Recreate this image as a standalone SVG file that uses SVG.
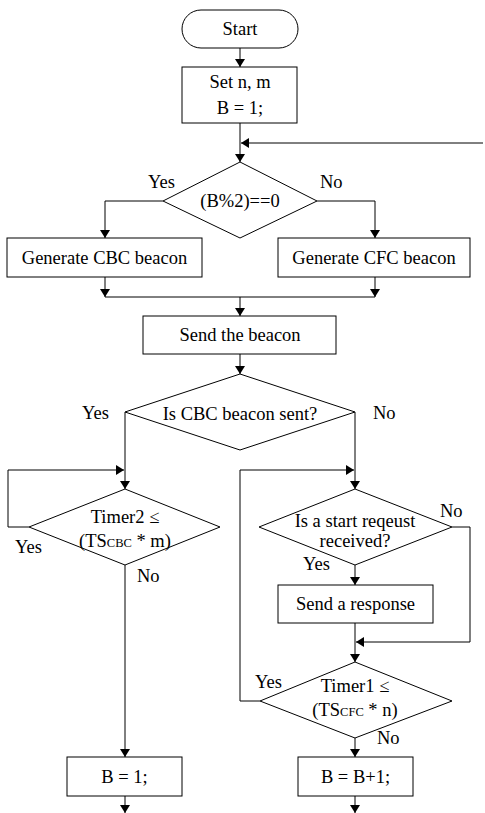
<svg xmlns="http://www.w3.org/2000/svg" width="485" height="813" viewBox="0 0 485 813">
<style>
.n{fill:#fff;stroke:#000;stroke-width:1}
.t{font-family:"Liberation Serif","Times New Roman",serif;font-size:18.5px;fill:#000;text-anchor:middle}
.l{font-family:"Liberation Serif","Times New Roman",serif;font-size:18.5px;fill:#000}
.s{font-size:12.5px}
.c{fill:none;stroke:#000;stroke-width:1}
</style>
<defs>
<marker id="a" markerWidth="8" markerHeight="10" refX="8" refY="5" orient="auto" markerUnits="userSpaceOnUse">
<path d="M0,0 L8,5 L0,10 z" fill="#000"/>
</marker>
</defs>
<rect width="485" height="813" fill="#fff"/>
<g id="connectors">
<path class="c" d="M240,48 V67" marker-end="url(#a)"/>
<path class="c" d="M240,123 V162" marker-end="url(#a)"/>
<path class="c" d="M483,143 H241" marker-end="url(#a)"/>
<path class="c" d="M163,201 H105 V238" marker-end="url(#a)"/>
<path class="c" d="M317,201 H375 V238" marker-end="url(#a)"/>
<path class="c" d="M105,277 V297" marker-end="url(#a)"/>
<path class="c" d="M375,277 V297" marker-end="url(#a)"/>
<path class="c" d="M105,297 H375"/>
<path class="c" d="M240,297 V316" marker-end="url(#a)"/>
<path class="c" d="M240,354 V374" marker-end="url(#a)"/>
<path class="c" d="M125,412 V489" marker-end="url(#a)"/>
<path class="c" d="M355,412 V489" marker-end="url(#a)"/>
<path class="c" d="M29,527 H8 V470 H124" marker-end="url(#a)"/>
<path class="c" d="M125,565 V757" marker-end="url(#a)"/>
<path class="c" d="M125,796 V813" marker-end="url(#a)"/>
<path class="c" d="M355,565 V585" marker-end="url(#a)"/>
<path class="c" d="M452,527 H470 V642 H356" marker-end="url(#a)"/>
<path class="c" d="M355,623 V662" marker-end="url(#a)"/>
<path class="c" d="M260,701 H240 V470 H354" marker-end="url(#a)"/>
<path class="c" d="M355,738 V757" marker-end="url(#a)"/>
<path class="c" d="M355,796 V813" marker-end="url(#a)"/>
</g>
<g id="start">
<rect class="n" x="182" y="10" width="116" height="38" rx="19"/>
<text class="t" x="240" y="35">Start</text>
</g>
<g id="set">
<rect class="n" x="182" y="67" width="115" height="56"/>
<text class="t" x="240" y="88">Set n, m</text>
<text class="t" x="240" y="114">B = 1;</text>
</g>
<g id="decision1">
<polygon class="n" points="240,162 317,201 240,238 163,201"/>
<text class="t" x="240" y="207">(B%2)==0</text>
<text class="l" x="148" y="188">Yes</text>
<text class="l" x="320" y="188">No</text>
</g>
<g id="cbc">
<rect class="n" x="7" y="238" width="195" height="39"/>
<text class="t" x="104.5" y="264">Generate CBC beacon</text>
</g>
<g id="cfc">
<rect class="n" x="278" y="238" width="192" height="39"/>
<text class="t" x="374" y="264">Generate CFC beacon</text>
</g>
<g id="send">
<rect class="n" x="143" y="316" width="193" height="38"/>
<text class="t" x="240" y="341">Send the beacon</text>
</g>
<g id="decision2">
<polygon class="n" points="240,374 355,412 240,450 125,412"/>
<text class="t" x="240" y="420">Is CBC beacon sent?</text>
<text class="l" x="82" y="419">Yes</text>
<text class="l" x="373" y="419">No</text>
</g>
<g id="timer2">
<polygon class="n" points="125,489 220,527 125,565 29,527"/>
<text class="t" x="125" y="523">Timer2 ≤</text>
<text class="t" x="125" y="547">(TS<tspan class="s">CBC</tspan> * m)</text>
<text class="l" x="15" y="553">Yes</text>
<text class="l" x="137" y="582">No</text>
</g>
<g id="request">
<polygon class="n" points="355,489 452,527 355,565 259,527"/>
<text class="t" x="355" y="527">Is a start reqeust</text>
<text class="t" x="355" y="547">received?</text>
<text class="l" x="440" y="517">No</text>
<text class="l" x="303" y="570">Yes</text>
</g>
<g id="response">
<rect class="n" x="278" y="585" width="155" height="38"/>
<text class="t" x="355.5" y="610">Send a response</text>
</g>
<g id="timer1">
<polygon class="n" points="355,662 452,701 355,738 260,701"/>
<text class="t" x="355" y="692">Timer1 ≤</text>
<text class="t" x="355" y="716">(TS<tspan class="s">CFC</tspan> * n)</text>
<text class="l" x="255" y="688">Yes</text>
<text class="l" x="377" y="744">No</text>
</g>
<g id="b1">
<rect class="n" x="67" y="757" width="115" height="39"/>
<text class="t" x="124.5" y="783">B = 1;</text>
</g>
<g id="bplus">
<rect class="n" x="298" y="757" width="115" height="39"/>
<text class="t" x="355.5" y="783">B = B+1;</text>
</g>
</svg>
